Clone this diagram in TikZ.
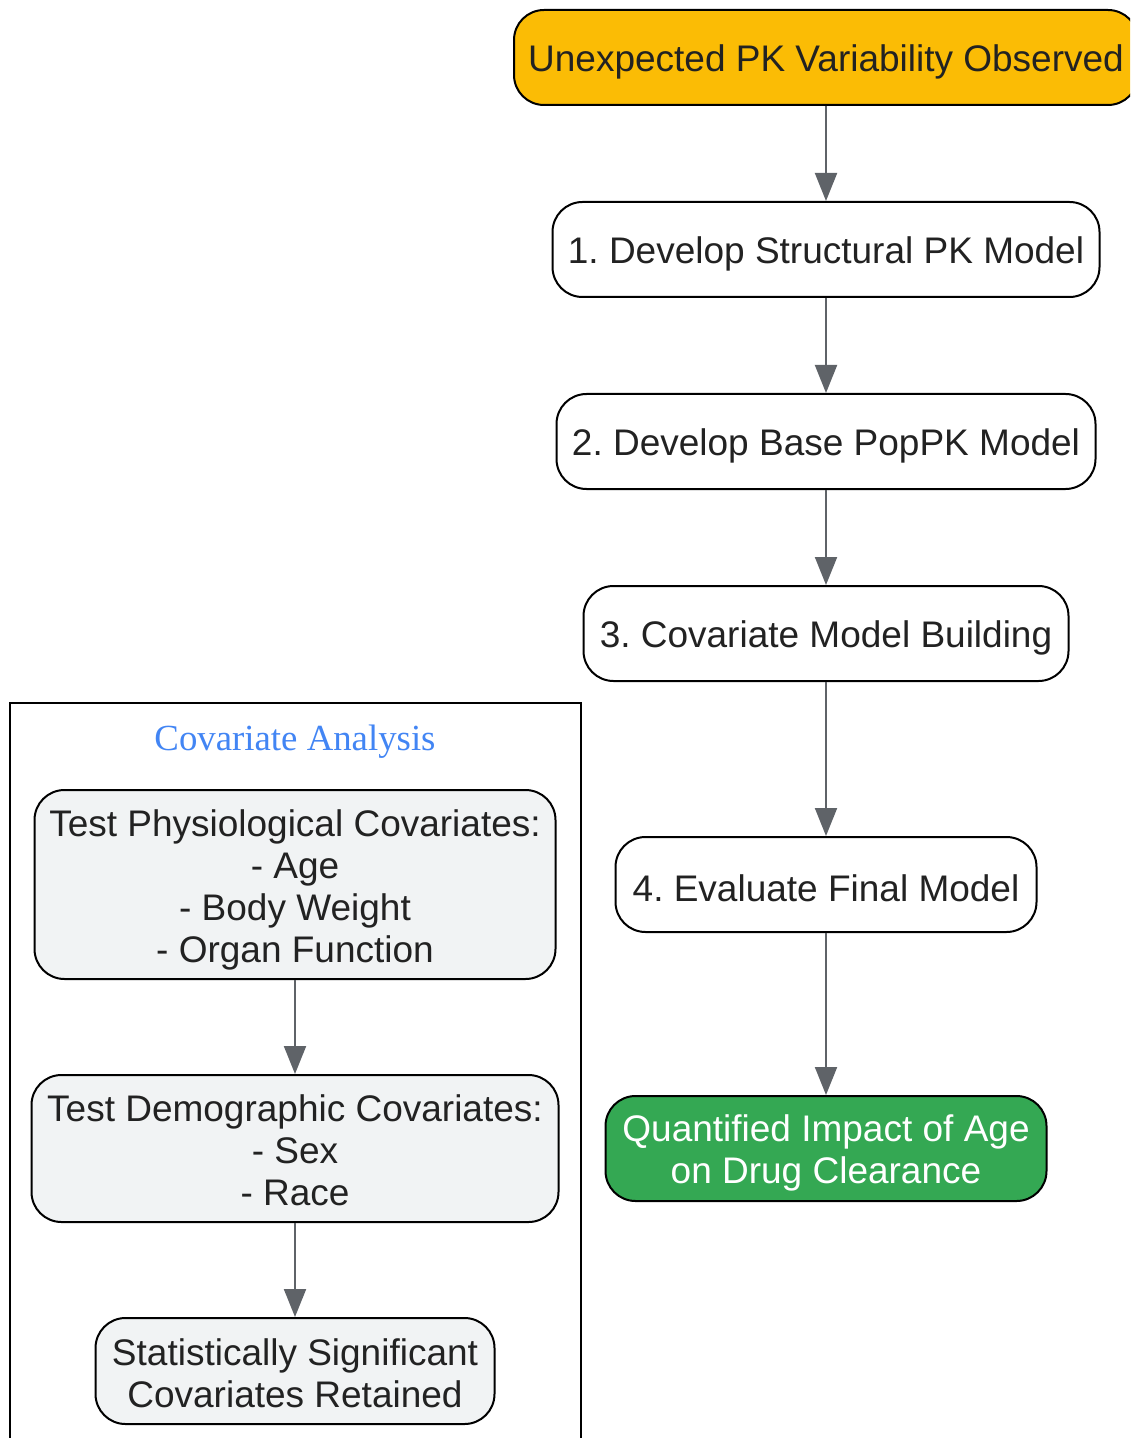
\documentclass[tikz,border=0pt]{standalone}
\usepackage{fontspec}
\setmainfont{Liberation Sans}
\newfontfamily\titlefont{Liberation Serif}
\usetikzlibrary{arrows.meta}
\frenchspacing
\definecolor{txt}{HTML}{222222}
\definecolor{edge}{HTML}{5F6368}
\definecolor{startc}{HTML}{FBBC05}
\definecolor{endc}{HTML}{34A853}
\definecolor{subc}{HTML}{F1F3F4}
\definecolor{titlec}{HTML}{4285F4}
\newcommand{\lift}[1]{\rule{0pt}{#1pt}}
\tikzset{
  box/.style={draw=black, line width=1pt, rounded corners=15pt, align=center, text=txt, inner sep=0pt,
    font=\fontsize{18.5}{21}\selectfont},
  mainbox/.style={box, fill=white, minimum height=47.5pt},
  subbox/.style={box, fill=subc},
  flow/.style={draw=edge, line width=1pt, -{Triangle[length=14pt,width=11pt]}},
}
\begin{document}
\begin{tikzpicture}[x=1pt,y=1pt]
\path[use as bounding box] (0,0) rectangle (565,-719);
\clip (0,0) rectangle (565,-719);
\fill[white] (0,0) rectangle (565,-719);
% cluster
\draw[line width=1pt, black] (5,-351.5) rectangle (290.5,-760);
\node[text=titlec, font=\titlefont\fontsize{18.4}{21}\selectfont] (ctitle) at (147.5,-371) {Covariate Analysis};
% main flow
\node[box, fill=startc, minimum width=312pt, minimum height=47.5pt] (start) at (413,-28.75) {\lift{17.5}Unexpected PK Variability Observed};
\node[mainbox, minimum width=273.5pt] (s1) at (413,-124.75) {\lift{17.5}1. Develop Structural PK Model};
\node[mainbox, minimum width=269.5pt] (s2) at (413,-220.75) {\lift{17.5}2. Develop Base PopPK Model};
\node[mainbox, minimum width=242.5pt] (s3) at (413,-316.75) {\lift{17.5}3. Covariate Model Building};
\node[mainbox, minimum width=210.5pt] (s4) at (413,-442.25) {\lift{17.5}4. Evaluate Final Model};
\node[box, fill=endc, text=white, minimum width=220.5pt, minimum height=52.5pt] (end) at (413,-574.25) {\lift{17.5}Quantified Impact of Age\\on Drug Clearance};
% sub flow
\node[subbox, minimum width=260.5pt, minimum height=94.5pt] (phys) at (147.5,-442.25) {\lift{18.5}Test Physiological Covariates:\\- Age\\- Body Weight\\- Organ Function};
\node[subbox, minimum width=263.5pt, minimum height=73.5pt] (demo) at (147.5,-574.25) {\lift{15.5}Test Demographic Covariates:\\- Sex\\- Race};
\node[subbox, minimum width=199.5pt, minimum height=53pt] (stat) at (147.5,-685.5) {\lift{15.5}Statistically Significant\\Covariates Retained};
% connectors
\draw[flow] (start) -- (s1);
\draw[flow] (s1) -- (s2);
\draw[flow] (s2) -- (s3);
\draw[flow] (s3) -- (s4);
\draw[flow] (s4) -- (end);
\draw[flow] (phys) -- (demo);
\draw[flow] (demo) -- (stat);
\end{tikzpicture}
\end{document}
